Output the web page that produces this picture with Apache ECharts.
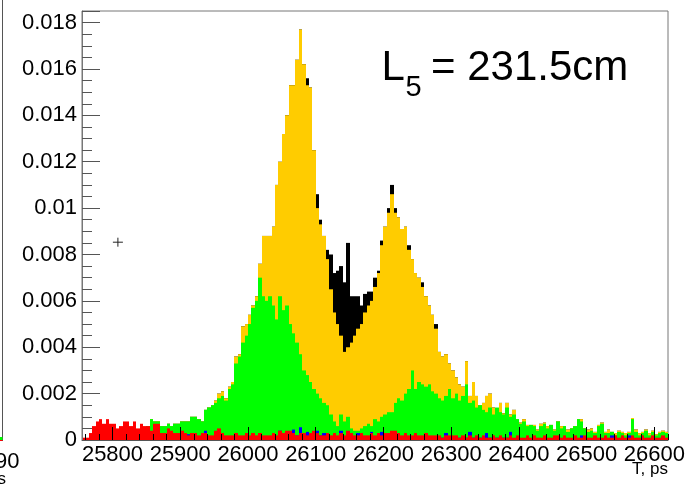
<!DOCTYPE html>
<html><head><meta charset="utf-8">
<script src="https://cdn.jsdelivr.net/npm/echarts@6/dist/echarts.min.js"></script>
<style>html,body{margin:0;padding:0;background:#fff}#c{width:690px;height:489px}</style>
</head><body><div id="c"></div>
<script>
// ---- data (histogram heights in units of 1e-4) ----
const BIN_MIN = 25755, BIN_WIDTH = 5, UNIT = 1e-4;
const X_MIN = 25755, X_MAX = 26620;
const xTickLabels = [25800, 25900, 26000, 26100, 26200, 26300, 26400, 26500, 26600];
const yTickStep = 0.002, Y_MAX = 0.0185;

const blackVals = [
 0,0,1,3,4,5,4,5,4,4,3,4,5,5,4,5,4,5,
 5,6,9,8,8,6,6,7,6,7,7,8,8,8,10,10,9,8,13,14,15,17,20,21,18,23,
 25,36,37,49,50,54,58,62,76,88,
 88,88,92,110,120,132,140,153,153,164,177,162,156,152,125,106,95,
 88,82,80,72,73,75,68,85,62,62,62,58,63,64,64,70,73,86,
 92,100,110,100,96,91,92,
 84,78,72,70,68,62,58,54,50,38,36,37,33,30,27,24,
 23,34,19,25,19,15,16,19,20,14,13,16,11.5,16,11,13,9,7.5,9,6.5,
 6.5,6.5,4.5,7,7.5,6,6.5,4.5,8,6,6,4.5,5,6,9,9,5,4.5,5,3.5,
 6.5,7.5,3.5,4.5,3.5,3,4,3.5,3,3.5,9.5,4.5,3,3.5,4.5,3,4,2.5,3.5,4,3.5
];
const yellowVals = [
 0,0,1,3,4,5,4,5,4,4,3,4,5,5,4,5,4,5,
 5,6,9,8,8,6,6,7,6,7,7,8,8,8,10,10,9,8,13,14,15,17,20,21,18,23,
 25,36,37,49,50,54,58,62,76,88,
 88,88,92,110,120,132,140,153,153,164,177,162,153,152,125,100,93,
 88,78,65,55,50,45,38,40,42,45,48,50,55,58,60,66,72,84,
 92,98,106,98,96,91,92,
 82,78,72,70,66,62,58,54,48,38,36,37,33,30,27,24,
 23,34,19,25,19,15,16,19,20,14,13,16,11.5,16,11,13,9,7.5,9,6.5,
 6.5,6.5,4.5,7,7.5,6,6.5,4.5,8,6,6,4.5,5,6,9,9,5,4.5,5,3.5,
 6.5,7.5,3.5,4.5,3.5,3,4,3.5,3,3.5,9.5,4.5,3,3.5,4.5,3,4,2.5,3.5,4,3.5
];
const greenVals = [
 0,0,1,3,4,5,4,5,4,4,3,4,5,5,4,5,4,5,
 5,6,9,8,8,6,6,7,6,7,7,8,8,8,10,10,9,8,13,14,15,16,18,19,17,22,
 24,33,36,42,45,50,57,60,70,62,
 60,62,58,52,62,56,58,50,46,42,
 37,30,28,25,22,20,18,16,15,11,
 8,6,11,8,10,5,4,4,5,6,
 7,6,9,8,10,11,12,12,16,18,
 17,20,22,30,22,25,24,23,24,21,
 20,18,17,19,22,18,20,17,
 19,24,16,17,14,15,13,12,14,11,14,12,11,14,10,11,9,7,8,6,
 6.5,6,4,6,7,5,6.5,4,8,5,6,3.5,5,6,9,8,5,3.5,4,3,
 6,7,3,3,3.5,2,3.5,3,2,3,9,3.5,2,3,4,2,3.5,2,3,3.5,3
];
const blueVals = [
 0,0,0,0,0,0,0,0,0,0,0,0,0,0,0,0,0,0,0,0,0,0,0,0,0,0,0,0,0,0,
 1,2.5,1,1,1,1,4,1,1,1,1,1,1,1,1,
 1,1,1,1,1,1,1,1,1,1,1,1,1,4,1.5,1.5,1.5,4.5,2,5.5,2,3.5,2,2,4,2,3,1.5,1.5,1.5,1.5,
 4,1.5,1.5,1.5,1.5,3,1.5,1.5,1.5,3.5,1.5,1.5,3.5,
 1,1,1,1,1,1,1,1,1,1,1,1,1,1,1,1,1,1,3,1,1,1,1,1,1,3.5,1,1,1,1,3,1,1,1,1,1,1,3.5,
 0.5,0.5,0.5,0.5,0.5,0.5,0.5,0.5,0.5,0.5,0.5,0.5,0.5,0.5,0.5,0.5,0.5,0.5,0.5,0.5,
 2,0.5,0.5,0.5,0.5,0.5,0.5,0.5,0.5,2,0.5,0.5,0.5,0.5,2,0.5,0.5,0.5,0.5,0.5,0.5,0.5,0.5,0.5,0.5,0.5
];
const redVals = [
 1,1,3,6,8,9,7,9,7,7,5,6,8,8,6,8,5,7,6,6,4,7,7,3,3,5,4,3,3,4,
 3,2,3,3,2,3,3,2,2,4,5,3,2,2,2,
 3,2,2,3,2,3,2,3,2,2,2,3,2,4,3,4,4,3,2,3,
 3,2,3,4,3,2,2,3,2,3,2,3,2,4,3,2,2,3,2,2,
 3,2,3,2,3,3,4,4,3,2,3,2,2,3,2,2,3,2,2,2,
 2,1,2,2,2,2,1,2,1,2,1,2,1,2,1,1,2,1,2,1,
 1,2,1,2,1,1,2,1,2,1,1,2,1,1,2,2,1,2,1,1,
 2,1,1,2,1,1,2,1,1,2,1,1,2,1,2,1,1,2,1,1,
 2,1,1,2,1,1,2,1
];
const markerPoint = [25808, 0.00853];
const annotation = { main: 'L', sub: '5', rest: '= 231.5cm' };
const xTitle = 'T, ps';

// ---- chart ----
const binStarts = [];
for (let i = 0; i < yellowVals.length; i++) binStarts.push(BIN_MIN + i * BIN_WIDTH);
const minorTicks = [];
for (let v = 25760; v <= X_MAX; v += 20) if (v % 100 !== 0) minorTicks.push(v);

const FONT = 'Liberation Sans, Arial, Helvetica, sans-serif';

function hist(name, vals, color, z) {
  return {
    type: 'custom', name, clip: true, z,
    data: binStarts.map((x, i) => [x, (vals[i] || 0) * UNIT]),
    encode: { x: 0, y: 1 },
    renderItem: (params, api) => {
      const x0 = api.value(0), v = api.value(1);
      if (!(v > 0)) return null;
      const a = api.coord([x0, v]);
      const b = api.coord([x0 + BIN_WIDTH, 0]);
      const xl = Math.round(a[0]), xr = Math.round(b[0]);
      return { type: 'rect', shape: { x: xl, y: a[1], width: xr - xl, height: b[1] - a[1] },
               style: { fill: color } };
    }
  };
}

const chart = echarts.init(document.getElementById('c'), null, { renderer: 'canvas' });
chart.setOption({
  animation: false,
  backgroundColor: '#fff',
  grid: { left: 82, right: 22, top: 11, bottom: 49, show: true, borderColor: '#777', borderWidth: 1 },
  xAxis: [{
    type: 'value', min: X_MIN, max: X_MAX, position: 'bottom', z: 10,
    axisLine: { show: true, lineStyle: { color: '#555', width: 1 } },
    axisTick: { show: true, inside: true, length: 13, customValues: xTickLabels, lineStyle: { color: '#000' } },
    axisLabel: { customValues: xTickLabels, formatter: v => String(v), fontSize: 22, fontFamily: FONT, color: '#000', margin: 4 },
    splitLine: { show: false }
  }, {
    type: 'value', min: X_MIN, max: X_MAX, position: 'bottom', z: 10,
    axisLine: { show: false },
    axisTick: { show: true, inside: true, length: 6, customValues: minorTicks, lineStyle: { color: '#000' } },
    axisLabel: { show: false }, splitLine: { show: false }
  }],
  yAxis: {
    type: 'value', min: 0, max: Y_MAX, interval: yTickStep, z: 10,
    axisLine: { show: true, lineStyle: { color: '#777', width: 1 } },
    axisTick: { show: true, inside: true, length: 18, lineStyle: { color: '#555' } },
    minorTick: { show: true, splitNumber: 4, length: 10, lineStyle: { color: '#555' } },
    axisLabel: { fontSize: 22, fontFamily: FONT, color: '#000', margin: 5, showMaxLabel: false },
    splitLine: { show: false }
  },
  series: [
    hist('black', blackVals, '#000000', 2),
    hist('yellow', yellowVals, '#ffcc00', 3),
    hist('green', greenVals, '#00ff00', 4),
    hist('blue', blueVals, '#0000ff', 5),
    hist('red', redVals, '#ff0000', 6),
    {
      type: 'custom', z: 7, data: [markerPoint],
      renderItem: (params, api) => {
        const p = api.coord([api.value(0), api.value(1)]);
        return { type: 'group', children: [
          { type: 'line', shape: { x1: p[0] - 5, y1: p[1], x2: p[0] + 5, y2: p[1] }, style: { stroke: '#222', lineWidth: 1 } },
          { type: 'line', shape: { x1: p[0], y1: p[1] - 4.5, x2: p[0], y2: p[1] + 4.5 }, style: { stroke: '#222', lineWidth: 1 } }
        ] };
      }
    }
  ],
  graphic: [
    { type: 'text', left: 381.6, top: 47.8, style: { text: annotation.main, font: '42px ' + FONT, fill: '#000' } },
    { type: 'text', left: 405.5, top: 73.2, style: { text: annotation.sub, font: '29px ' + FONT, fill: '#000' } },
    { type: 'text', left: 431, top: 47.8, style: { text: annotation.rest, font: '42px ' + FONT, fill: '#000' } },
    { type: 'text', x: 668, y: 460.8, style: { text: xTitle, font: '17px ' + FONT, fill: '#000', align: 'right', verticalAlign: 'top' } },
    // remnants of the neighbouring pad on the left
    { type: 'line', shape: { x1: 2.5, y1: 0, x2: 2.5, y2: 441 }, style: { stroke: '#555', lineWidth: 1 } },
    { type: 'rect', shape: { x: 0, y: 437, width: 2.5, height: 3 }, style: { fill: '#00ff00' } },
    { type: 'rect', shape: { x: 0, y: 440, width: 2.5, height: 1 }, style: { fill: '#ff0000' } },
    { type: 'text', x: 19.5, y: 451.1, style: { text: '26590', font: '22px ' + FONT, fill: '#000', align: 'right', verticalAlign: 'top' } },
    { type: 'text', x: 6, y: 471.1, style: { text: xTitle, font: '17px ' + FONT, fill: '#000', align: 'right', verticalAlign: 'top' } }
  ]
});
</script></body></html>
